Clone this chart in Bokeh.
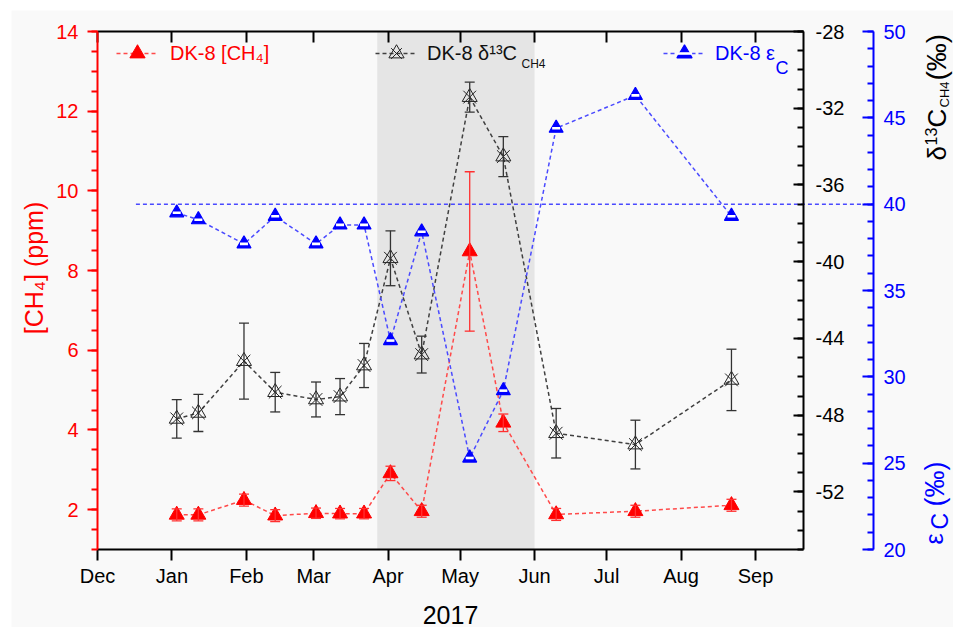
from math import pi
import pandas as pd
from bokeh.plotting import figure
from bokeh.models import (Range1d, LinearAxis, DatetimeAxis, FixedTicker, SingleIntervalTicker,
                          DatetimeTickFormatter, CustomJSTickFormatter, BoxAnnotation, Whisker,
                          TeeHead, ColumnDataSource, Legend, LegendItem, Label, Arrow)
from bokeh.embed import file_html
from bokeh.resources import INLINE

FONT = "Liberation Sans"
BG = "#f9f9f9"
SHADE = "#e5e5e5"

# ---------------- data ----------------
sample_dates = ["2017-01-03", "2017-01-12", "2017-01-31", "2017-02-13", "2017-03-02",
                "2017-03-12", "2017-03-22", "2017-04-02", "2017-04-15", "2017-05-05",
                "2017-05-19", "2017-06-10", "2017-07-13", "2017-08-22"]
ch4_ppm = [1.87, 1.87, 2.24, 1.85, 1.91, 1.90, 1.90, 2.91, 1.96, 8.48, 4.18, 1.88, 1.96, 2.11]
ch4_err = [0.15, 0.15, 0.15, 0.15, 0.13, 0.13, 0.13, 0.18, 0.15, 2.0, 0.22, 0.15, 0.15, 0.15]
d13c_ch4 = [-48.19, -47.88, -45.18, -46.80, -47.18, -47.03, -45.41, -39.82, -44.84,
            -31.42, -34.52, -48.94, -49.53, -46.16]
d13c_err = [1.0, 0.97, 1.98, 1.03, 0.91, 0.94, 1.15, 1.43, 0.96, 0.78, 1.04, 1.29, 1.27, 1.6]
eps_c = [39.5, 39.1, 37.7, 39.3, 37.7, 38.8, 38.8, 32.1, 38.4, 25.3, 29.2, 44.4, 46.3, 39.3]

month_ticks = ["2016-12-01", "2017-01-01", "2017-02-01", "2017-03-01", "2017-04-01",
               "2017-05-01", "2017-06-01", "2017-07-01", "2017-08-01", "2017-09-01"]
x_start, x_end = "2016-12-01", "2017-09-21"
shade_start, shade_end = "2017-03-27 12:00", "2017-06-01"
eps_ref_value = 40
eps_ref_start = "2016-12-17"
ch4_range = (1, 14)
d13c_range = (-55, -28)
eps_range = (20, 50)

# ---------------- layout (pixels) ----------------
PAGE_X0, PAGE_Y0 = 11, 10            # white strip around the figure
FRAME_W, FRAME_H = 942, 617          # whole drawing area
PLOT_L, PLOT_R, PLOT_T, PLOT_B = 86, 792, 21, 539   # plot box inside the drawing area
EPS_AXIS_PX = 862                    # blue axis position inside the drawing area


def ms(d):
    return pd.Timestamp(d).timestamp() * 1000.0


def extend(lo, hi, m_lo, m_hi, length):
    per = (hi - lo) / length
    return lo - m_lo * per, hi + m_hi * per


xs0, xs1 = ms(x_start), ms(x_end)
x_view = extend(xs0, xs1, PLOT_L, FRAME_W - PLOT_R, PLOT_R - PLOT_L)
eps_axis_at = xs0 + (EPS_AXIS_PX - PLOT_L) * (xs1 - xs0) / (PLOT_R - PLOT_L)


def y_view(r):
    return extend(r[0], r[1], FRAME_H - PLOT_B, PLOT_T, PLOT_B - PLOT_T)


src = ColumnDataSource(dict(
    x=[ms(d) for d in sample_dates],
    ch4=ch4_ppm,
    ch4_lo=[v - e for v, e in zip(ch4_ppm, ch4_err)],
    ch4_hi=[v + e for v, e in zip(ch4_ppm, ch4_err)],
    d13c=d13c_ch4,
    d13c_lo=[v - e for v, e in zip(d13c_ch4, d13c_err)],
    d13c_hi=[v + e for v, e in zip(d13c_ch4, d13c_err)],
    eps=eps_c,
))

p = figure(x_axis_type="datetime", frame_width=FRAME_W, frame_height=FRAME_H,
           x_range=Range1d(*x_view), y_range=Range1d(*y_view(ch4_range)),
           output_backend="svg", toolbar_location=None,
           min_border_left=0, min_border_right=0, min_border_top=0, min_border_bottom=0,
           background_fill_color=BG, border_fill_color=BG, outline_line_color=None)
p.margin = (PAGE_Y0, 0, 0, PAGE_X0)
p.grid.visible = False
p.extra_y_ranges = {"d13c": Range1d(*y_view(d13c_range)), "eps": Range1d(*y_view(eps_range))}


def style_axis(ax, color, tin, tout, mtin, mtout, standoff):
    ax.axis_line_color = color
    ax.axis_line_width = 2
    ax.major_tick_line_color = color
    ax.major_tick_line_width = 2
    ax.minor_tick_line_color = color
    ax.minor_tick_line_width = 2
    ax.major_tick_in = tin
    ax.major_tick_out = tout
    ax.minor_tick_in = mtin
    ax.minor_tick_out = mtout
    ax.major_label_text_color = color
    ax.major_label_text_font = FONT
    ax.major_label_text_font_size = "20px"
    ax.major_label_standoff = standoff


month_ms = [ms(d) for d in month_ticks]
fmt = DatetimeTickFormatter(years="%b", months="%b", days="%b", hours="%b")
int_fmt = CustomJSTickFormatter(code="return tick.toFixed(0)")

# left axis (red)
ly = p.yaxis[0]
ly.ticker = SingleIntervalTicker(interval=2, num_minor_ticks=4)
ly.formatter = int_fmt
ly.fixed_location = xs0
ly.bounds = ch4_range
style_axis(ly, "#ff0000", 0, 10, 0, 6, 9)

# bottom axis
bx = p.xaxis[0]
bx.ticker = FixedTicker(ticks=month_ms, minor_ticks=[])
bx.formatter = fmt
bx.bounds = (xs0, xs1)
bx.fixed_location = ch4_range[0]
style_axis(bx, "#000000", 0, 11, 0, 0, 4)
bx.axis_label = "2017"
bx.axis_label_text_font = FONT
bx.axis_label_text_font_size = "25px"
bx.axis_label_text_font_style = "normal"
bx.axis_label_text_color = "#000000"
bx.axis_label_standoff = 16

# top axis (ticks only)
tx = DatetimeAxis(ticker=FixedTicker(ticks=month_ms, minor_ticks=[]),
                  formatter=CustomJSTickFormatter(code="return ''"),
                  bounds=(xs0, xs1), fixed_location=ch4_range[1])
style_axis(tx, "#000000", 11, 0, 0, 0, 0)
p.add_layout(tx, "above")

# right black axis
ra = LinearAxis(y_range_name="d13c", ticker=SingleIntervalTicker(interval=4, num_minor_ticks=4),
                formatter=int_fmt, fixed_location=xs1, bounds=d13c_range)
style_axis(ra, "#000000", 10, 0, 6, 0, 12)
p.add_layout(ra, "right")

# right blue axis
rb = LinearAxis(y_range_name="eps", ticker=SingleIntervalTicker(interval=5, num_minor_ticks=5),
                formatter=int_fmt, fixed_location=eps_axis_at, bounds=eps_range)
style_axis(rb, "#0000ff", 11, 0, 6, 0, 10)
p.add_layout(rb, "right")

# shaded period
p.add_layout(BoxAnnotation(left=ms(shade_start), right=ms(shade_end),
                           bottom=ch4_range[0], top=ch4_range[1], fill_color=SHADE,
                           fill_alpha=1, line_color=None, level="underlay"))

# reference line eps = 40
p.add_layout(Arrow(x_start=ms(eps_ref_start), y_start=eps_ref_value, x_end=eps_axis_at,
                   y_end=eps_ref_value, start=None, end=None, y_range_name="eps",
                   line_color="#4a4aff", line_dash="4 3", line_width=1.5, level="underlay"))

# lines
red_line = p.line("x", "ch4", source=src, line_color="#ff4a4a", line_dash="4 3", line_width=1.5)
black_line = p.line("x", "d13c", source=src, y_range_name="d13c", line_color="#404040",
                    line_dash="4 3", line_width=1.5)
blue_line = p.line("x", "eps", source=src, y_range_name="eps", line_color="#4a4aff",
                   line_dash="4 3", line_width=1.5)

# error bars
p.add_layout(Whisker(source=src, base="x", lower="d13c_lo", upper="d13c_hi", y_range_name="d13c",
                     line_color="#333333", line_width=1.3, level="glyph",
                     upper_head=TeeHead(size=10, line_color="#333333", line_width=1.3),
                     lower_head=TeeHead(size=10, line_color="#333333", line_width=1.3)))
p.add_layout(Whisker(source=src, base="x", lower="ch4_lo", upper="ch4_hi",
                     line_color="#ff3030", line_width=1.3, level="glyph",
                     upper_head=TeeHead(size=10, line_color="#ff3030", line_width=1.3),
                     lower_head=TeeHead(size=10, line_color="#ff3030", line_width=1.3)))

# markers
red_tri = p.scatter("x", "ch4", source=src, marker="triangle", size=15,
                    fill_color="#ff0000", line_color="#ff0000")
black_tri = p.scatter("x", "d13c", source=src, y_range_name="d13c", marker="triangle", size=15,
                      fill_color=None, line_color="#222222", line_width=1)
black_x = p.scatter("x", "d13c", source=src, y_range_name="d13c", marker="x", size=18,
                    line_color="#222222", line_width=1)
blue_tri = p.scatter("x", "eps", source=src, y_range_name="eps", marker="triangle", size=14,
                     fill_color="#0000ff", line_color="#0000ff", line_width=1.2)
blue_band = p.scatter("x", "eps", source=src, y_range_name="eps", marker="dash", size=8,
                      line_color="white", line_width=2.6)


# legends (location = bottom-left of legend box, px from drawing-area bottom-left)
def make_legend(label, renderers, page_x, page_y_center, color, standoff):
    loc = (page_x - PAGE_X0, (PAGE_Y0 + FRAME_H) - page_y_center - 19)
    lg = Legend(items=[LegendItem(label=label, renderers=renderers)], location=loc,
                glyph_width=42, glyph_height=38, label_height=38, label_standoff=standoff,
                padding=0, margin=0, spacing=0, border_line_color=None,
                background_fill_alpha=0, label_text_font=FONT, label_text_font_size="20px",
                label_text_color=color)
    p.add_layout(lg)


make_legend("DK-8 [CH₄]", [red_line, red_tri], 116, 53, "#ff0000", 12)
make_legend("DK-8 δ¹³C", [black_line, black_tri, black_x], 375, 53, "#111111", 10)
make_legend("DK-8 ε", [blue_line, blue_tri, blue_band], 663, 53, "#0000ff", 10)


def lab(page_x, page_y, text, size, color, angle=0, align="left", baseline="alphabetic"):
    p.add_layout(Label(x=page_x - PAGE_X0, y=(PAGE_Y0 + FRAME_H) - page_y,
                       x_units="screen", y_units="screen", text=text, angle=angle,
                       text_align=align, text_baseline=baseline, text_font=FONT,
                       text_font_size=size, text_color=color))


# legend subscripts
lab(521, 63, "CH4", "12px", "#111111")
lab(775, 67, "C", "18px", "#0000ff")

# axis titles
lab(33, 267.5, "[CH₄] (ppm)", "25px", "#ff0000", angle=pi / 2, align="center", baseline="middle")
lab(936, 160, "δ", "26px", "#000000", angle=pi / 2)
lab(930, 145, "13", "16px", "#000000", angle=pi / 2)
lab(936, 127, "C", "26px", "#000000", angle=pi / 2)
lab(944, 107, "CH4", "13px", "#000000", angle=pi / 2)
lab(936, 80, "(‰)", "28px", "#000000", angle=pi / 2)
lab(933, 544, "ε", "25px", "#0000ff", angle=pi / 2)
lab(939, 529, "C", "23px", "#0000ff", angle=pi / 2)
lab(934, 506, "(‰)", "27px", "#0000ff", angle=pi / 2)

open("out.html", "w").write(file_html(p, INLINE))
